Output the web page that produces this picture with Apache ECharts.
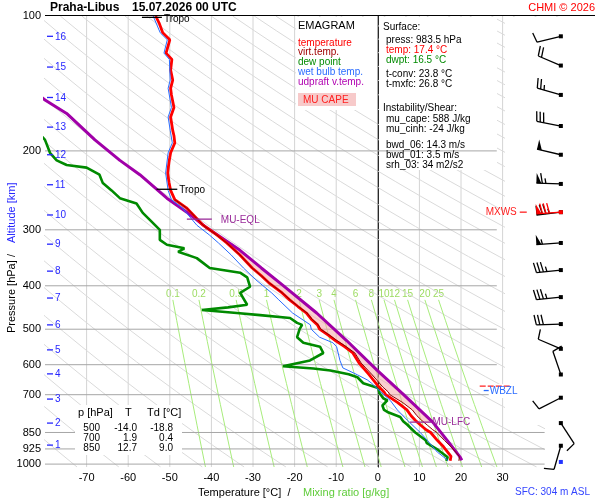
<!DOCTYPE html>
<html>
<head>
<meta charset="utf-8">
<title>Emagram Praha-Libus</title>
<script src="https://cdn.jsdelivr.net/npm/echarts@6.0.0/dist/echarts.min.js"></script>
<style>
html,body{margin:0;padding:0;background:#ffffff;}
#chart{width:600px;height:500px;}
</style>
</head>
<body>
<div id="chart"></div>
<script>
// ================= DATA (pressure hPa, temperature °C) =================
const temperature = [[100,-53.4],[104,-52.5],[109,-51.7],[113,-50.0],[121,-50.9],[125,-49.5],[132,-49.8],[139,-49.3],[145,-49.8],[150,-49.6],[160,-49.0],[168,-49.8],[180,-49.3],[185,-49.0],[192,-48.8],[202,-49.8],[212,-50.2],[224,-50.5],[235,-50.2],[245,-49.8],[257,-48.8],[268,-46.0],[275,-44.8],[280,-44.0],[293,-42.0],[308,-38.7],[321,-36.3],[341,-33.2],[365,-30.2],[380,-28.0],[394,-26.2],[415,-23.0],[430,-21.2],[445,-19.2],[460,-17.2],[475,-16.0],[489,-14.5],[500,-14.0],[515,-12.0],[530,-10.2],[547,-8.0],[565,-6.0],[595,-4.5],[610,-3.5],[630,-2.2],[650,-1.0],[673,0.3],[690,1.5],[700,1.9],[729,4.8],[757,7.0],[780,8.0],[798,9.0],[820,10.4],[838,11.6],[850,12.7],[885,14.3],[915,15.8],[940,16.8],[961,17.6],[970,17.8],[983.5,17.4]];
const virtualTemp = [[257,-48.8],[268,-46.0],[280,-44.0],[293,-42.0],[308,-38.7],[321,-36.3],[341,-33.2],[365,-30.2],[380,-28.0],[394,-26.1],[415,-22.9],[430,-21.1],[445,-19.1],[460,-17.0],[475,-15.8],[489,-14.3],[500,-13.7],[515,-11.7],[530,-9.8],[547,-7.6],[565,-5.5],[595,-4.0],[610,-2.9],[630,-1.5],[650,-0.2],[673,1.2],[690,2.5],[700,2.9],[729,6.0],[757,8.3],[780,9.4],[798,10.5],[820,12.0],[838,13.2],[850,14.2],[885,16.0],[915,17.6],[940,18.7],[961,19.6],[983.5,19.5]];
const dewPoint = [[180,-82],[189,-80],[202,-78.8],[210,-77.2],[215,-74.8],[218,-70],[226,-66.9],[236,-66.1],[245,-64],[255,-62],[262,-58],[275,-56.5],[285,-54.8],[300,-52.4],[316,-52.4],[324,-50.7],[330,-46.5],[336,-48],[347,-43.5],[365,-40.4],[374,-33.1],[383,-31.4],[402,-30.7],[415,-33.1],[441,-31.4],[447,-36],[453,-42.3],[460,-33.9],[465,-28.3],[472,-21.1],[484,-19.4],[489,-18.2],[500,-18.8],[521,-19.4],[536,-17.9],[547,-13.9],[565,-13.1],[587,-16.3],[605,-22.8],[612,-15.5],[618,-11.4],[630,-7.0],[640,-4.9],[660,-3.5],[676,0.1],[694,0.4],[700,0.4],[713,1.3],[721,2.3],[740,1.1],[757,1.5],[765,2.3],[785,5.4],[802,6.1],[817,7.1],[850,9.0],[885,11.5],[898,11.8],[930,14.5],[965,16.8],[983.5,16.5]];
const wetBulb = [[100,-54.0],[109,-52.3],[113,-50.6],[121,-51.4],[125,-50.1],[139,-49.9],[145,-50.4],[160,-49.6],[168,-50.4],[180,-49.9],[192,-49.4],[202,-50.4],[224,-51.0],[245,-50.4],[257,-49.6],[268,-47.0],[275,-46.0],[293,-43.5],[308,-40.5],[321,-38.3],[341,-35.3],[365,-32.3],[388,-29.3],[415,-25.5],[430,-23.8],[460,-20.5],[489,-16.2],[500,-16.0],[521,-14.0],[536,-10.8],[547,-9.9],[587,-9.1],[610,-8.4],[632,-4.9],[649,-2.5],[660,-1.5],[694,1.0],[721,3.0],[757,4.7],[798,7.1],[838,9.5],[850,10.2],[885,11.9],[940,14.3],[978,16.7],[983.5,16.8]];
const parcel = [[150,-81.5],[154,-80],[165,-74.8],[189,-68],[210,-62],[226,-57.2],[255,-50.7],[274,-45.9],[297,-41.1],[333,-33.2],[365,-28.0],[399,-22.8],[460,-14.7],[530,-7.5],[617,-0.2],[700,6.2],[806,13.2],[900,17.3],[962,19.7],[980,20.2]];

const capeTopP = 284;     // MU-EQL
const capeBottomP = 806;  // MU-LFC

const altKm = [1,2,3,4,5,6,7,8,9,10,11,12,13,14,15,16];
const altP  = [907,810,716,629,556,489,426,371,323,278,238,204,177,152,130,111];

const windP   = [910,810,711,631,553,487,424,369,321,274,237,204,176,150,129,111];
const windDir = [196,147,243,341,293,268,264,264,266,263,272,283,281,286,293,256];
const windSpd = [10,10,10,10,10,30,35,35,55,75,65,50,30,25,20,10];

const markerNames = ['Tropo','Tropo','MU-EQL','MU-LFC'];
const markerP     = [100.7, 243.6, 284, 806];
const markerT1    = [-56.7, -53.2, -45.9, 7.7];
const markerT2    = [-51.9, -48.2, -39.9, 12.9];

const pressureTicks = [100,200,300,400,500,600,700,850,925,1000];
const pressureLines = [200,300,400,500,600,700,850,925,1000];
const isotherms = [-70,-60,-50,-40,-30,-20,-10,0,10,20,30];
const mixingRatios = [0.1,0.2,0.5,1,2,3,4,6,8,10,12,15,20,25];
const thetas = [200,210,220,230,240,250,260,270,280,290,300,310,320,330,340,350,360,370,380,390,400,410,420,430,440,450,460,470,480,490,500,510,520,530,540,550,560,570,580,590,600,610];

const tableRows = [['500','-14.0','-18.8'],['700','1.9','0.4'],['850','12.7','9.0']];

// ================= helpers =================
const FONT = "'Liberation Sans', Arial, Helvetica, sans-serif";
const X_MIN = -80, X_MAX = 52.21;
const P_TOP = 100, P_BOT = 1015;
const ly = p => Math.log10(p);
const toXY = prof => prof.map(d => [d[1], ly(d[0])]);
const satT = (w, p) => { const es = w * p / (622 + w); const L = Math.log(es / 6.112); return 243.5 * L / (17.67 - L); };
const dryT = (th, p) => th * Math.pow(p / 1000, 0.2857) - 273.15;
function interpT(prof, p) {
  const lp = Math.log(p);
  for (let i = 0; i < prof.length - 1; i++) {
    const a = prof[i], b = prof[i + 1];
    if ((p - a[0]) * (p - b[0]) <= 0) {
      const f = (lp - Math.log(a[0])) / (Math.log(b[0]) - Math.log(a[0]));
      return a[1] + f * (b[1] - a[1]);
    }
  }
  return prof[prof.length - 1][1];
}
function txt(x, y, text, fill, size, align, extra) {
  return Object.assign({
    type: 'text', z: 10, silent: true,
    style: { x: x, y: y, text: text, fill: fill || '#000', font: (size || 10) + 'px ' + FONT,
      align: align || 'left', textAlign: align || 'left', verticalAlign: 'middle', textVerticalAlign: 'middle' }
  }, extra || {});
}

const series = [];
const base = { type: 'line', symbol: 'none', showSymbol: false, silent: true, animation: false };

// isotherms
isotherms.forEach(t => series.push(Object.assign({}, base, {
  data: [[t, ly(P_TOP)], [t, ly(P_BOT)]],
  lineStyle: { color: t === 0 ? '#8e8e8e' : '#d4d4d4', width: 1 }, z: t === 0 ? 3 : 1
})));

// dry adiabats
const samp = [];
for (let i = 0; i <= 30; i++) samp.push(P_TOP * Math.pow(P_BOT / P_TOP, i / 30));
thetas.forEach(th => series.push(Object.assign({}, base, {
  data: samp.map(p => [dryT(th, p), ly(p)]),
  lineStyle: { color: '#dadada', width: 1 }, z: 1
})));

// mixing ratio lines
const mrSamp = [];
for (let i = 0; i <= 8; i++) mrSamp.push(430 * Math.pow(P_BOT / 430, i / 8));
mixingRatios.forEach(w => series.push(Object.assign({}, base, {
  data: mrSamp.map(p => [satT(w, p), ly(p)]),
  lineStyle: { color: '#a8ec7c', width: 1 }, z: 1
})));
series.push({
  type: 'custom', silent: true, animation: false, z: 1,
  data: mixingRatios.map(w => [satT(w, 430), ly(430), w]),
  renderItem: (params, api) => {
    const c = api.coord([api.value(0), api.value(1)]);
    return { type: 'text', style: { text: String(api.value(2)), x: c[0], y: c[1] - 1, fill: '#9ddc62',
      font: '10px ' + FONT, align: 'center', textAlign: 'center', verticalAlign: 'bottom', textVerticalAlign: 'bottom' } };
  }
});

// pressure lines
pressureLines.forEach(p => series.push(Object.assign({}, base, {
  data: [[X_MIN, ly(p)], [p <= 700 ? 28.6 : 40.1, ly(p)]],
  lineStyle: { color: '#a6a6a6', width: 1 }, z: 3
})));

// CAPE fill
series.push({
  type: 'custom', silent: true, animation: false, z: 5, data: [[0, 2.5]],
  renderItem: (params, api) => {
    const pts = [];
    pts.push([interpT(parcel, capeTopP), ly(capeTopP)]);
    parcel.forEach(d => { if (d[0] > capeTopP && d[0] < capeBottomP) pts.push([d[1], ly(d[0])]); });
    pts.push([interpT(parcel, capeBottomP), ly(capeBottomP)]);
    pts.push([interpT(virtualTemp, capeBottomP), ly(capeBottomP)]);
    virtualTemp.slice().reverse().forEach(d => { if (d[0] > capeTopP && d[0] < capeBottomP) pts.push([d[1], ly(d[0])]); });
    pts.push([interpT(virtualTemp, capeTopP), ly(capeTopP)]);
    return { type: 'polygon', shape: { points: pts.map(q => api.coord(q)) }, style: { fill: 'rgba(245,170,170,0.55)' } };
  }
});

// profiles
series.push(Object.assign({}, base, { name: 'dew point', data: toXY(dewPoint), lineStyle: { color: '#008a00', width: 2.6 }, z: 6 }));
series.push(Object.assign({}, base, { name: 'udpraft v.temp.', data: toXY(parcel), lineStyle: { color: '#a000a8', width: 3 }, z: 6 }));
series.push(Object.assign({}, base, { name: 'temperature', data: toXY(temperature), lineStyle: { color: '#ff0000', width: 2.8 }, z: 7 }));
series.push(Object.assign({}, base, { name: 'virt.temp.', data: toXY(virtualTemp), lineStyle: { color: '#8b0000', width: 1 }, z: 7 }));
series.push(Object.assign({}, base, { name: 'wet bulb temp.', data: toXY(wetBulb), lineStyle: { color: '#2a6cff', width: 1 }, z: 8 }));

// markers (Tropo, MU-EQL, MU-LFC)
const markerColors = ['#000000', '#000000', '#9a2b9a', '#9a2b9a'];
const markerGap = [2, 2, 9, 1];
const markerDy = [2.2, 1.4, 1.2, 0.5];
series.push({
  type: 'custom', silent: true, animation: false, z: 9,
  data: markerP.map((p, i) => [markerT1[i], ly(p), markerT2[i], i]),
  renderItem: (params, api) => {
    const a = api.coord([api.value(0), api.value(1)]), b = api.coord([api.value(2), api.value(1)]);
    const i = api.value(3);
    return { type: 'group', children: [
      { type: 'line', shape: { x1: a[0], y1: a[1], x2: b[0], y2: b[1] }, style: { stroke: markerColors[i], lineWidth: 1.3 } },
      { type: 'text', style: { text: markerNames[i], x: b[0] + markerGap[i], y: a[1] + markerDy[i], fill: markerColors[i],
        font: '10px ' + FONT, align: 'left', textAlign: 'left', verticalAlign: 'middle', textVerticalAlign: 'middle' } }
    ] };
  }
});

// altitude labels (km)
series.push({
  type: 'custom', silent: true, animation: false, z: 9,
  data: altKm.map((k, i) => [X_MIN, ly(altP[i]), k]),
  renderItem: (params, api) => {
    const c = api.coord([api.value(0), api.value(1)]);
    return { type: 'group', children: [
      { type: 'line', shape: { x1: c[0] + 2, y1: c[1], x2: c[0] + 8, y2: c[1] }, style: { stroke: '#2626ff', lineWidth: 1.3 } },
      { type: 'text', style: { text: String(api.value(2)), x: c[0] + 10, y: c[1] + 0.5, fill: '#2626ff',
        font: '10px ' + FONT, align: 'left', textAlign: 'left', verticalAlign: 'middle', textVerticalAlign: 'middle' } }
    ] };
  }
});

// level labels MXWS / WBZL
series.push({
  type: 'custom', silent: true, animation: false, z: 9,
  data: [[33.4, ly(274), 0], [26.9, ly(687), 1]],
  renderItem: (params, api) => {
    const c = api.coord([api.value(0), api.value(1)]);
    const f = '10px ' + FONT;
    if (api.value(2) === 0) {
      return { type: 'group', children: [
        { type: 'text', style: { text: 'MXWS', x: c[0], y: c[1], fill: '#ff2020', font: f, align: 'right', textAlign: 'right', verticalAlign: 'middle', textVerticalAlign: 'middle' } },
        { type: 'line', shape: { x1: c[0] + 3, y1: c[1], x2: c[0] + 10, y2: c[1] }, style: { stroke: '#ff2020', lineWidth: 1.3 } }
      ] };
    }
    return { type: 'group', children: [
      { type: 'rect', shape: { x: c[0] - 1, y: c[1] - 7, width: 30, height: 14 }, style: { fill: '#ffffff' } },
      { type: 'line', shape: { x1: c[0] - 10, y1: c[1] - 5, x2: c[0] + 20, y2: c[1] - 5 }, style: { stroke: '#ff2020', lineWidth: 1.2, lineDash: [6, 2] } },
      { type: 'line', shape: { x1: c[0] - 6, y1: c[1] - 0.5, x2: c[0] - 1, y2: c[1] - 0.5 }, style: { stroke: '#2a6cff', lineWidth: 1.3 } },
      { type: 'text', style: { text: 'WBZL', x: c[0], y: c[1], fill: '#2a6cff', font: f, align: 'left', textAlign: 'left', verticalAlign: 'middle', textVerticalAlign: 'middle' } }
    ] };
  }
});

// wind barbs
const windData = windP.map((p, i) => [44, ly(p), windDir[i], windSpd[i], 0]);
windData.push([44, ly(274), 266, 80, 2]);
windData.push([44, ly(989), 0, 0, 1]);
series.push({
  type: 'custom', silent: true, animation: false, z: 9, data: windData,
  renderItem: (params, api) => {
    const S = api.coord([api.value(0), api.value(1)]);
    const dir = api.value(2) * Math.PI / 180, spd = api.value(3);
    const col = ['#000000', '#2233ff', '#ff0000'][api.value(4)];
    const ux = Math.sin(dir), uy = -Math.cos(dir), rx = -uy, ry = ux;
    const L = 24.5;
    const kids = [{ type: 'rect', shape: { x: S[0] - 2, y: S[1] - 2, width: 4, height: 4 }, style: { fill: col } }];
    if (spd > 0) {
      const E = [S[0] + L * ux, S[1] + L * uy];
      kids.push({ type: 'line', shape: { x1: S[0], y1: S[1], x2: E[0], y2: E[1] }, style: { stroke: col, lineWidth: 1.3 } });
      let rem = Math.round(spd / 5) * 5, pos = 0;
      while (rem >= 50) {
        const b = [E[0] - pos * ux, E[1] - pos * uy];
        kids.push({ type: 'polygon', shape: { points: [b, [b[0] + 10 * rx, b[1] + 10 * ry], [b[0] - 5 * ux, b[1] - 5 * uy]] }, style: { fill: col } });
        pos += 6; rem -= 50;
      }
      while (rem >= 10) {
        const b = [E[0] - pos * ux, E[1] - pos * uy];
        kids.push({ type: 'line', shape: { x1: b[0], y1: b[1], x2: b[0] + 10 * rx + 2 * ux, y2: b[1] + 10 * ry + 2 * uy }, style: { stroke: col, lineWidth: 1.3 } });
        pos += 3.5; rem -= 10;
      }
      if (rem >= 5) {
        if (pos === 0) pos = 3.5;
        const b = [E[0] - pos * ux, E[1] - pos * uy];
        kids.push({ type: 'line', shape: { x1: b[0], y1: b[1], x2: b[0] + 5 * rx + 1 * ux, y2: b[1] + 5 * ry + 1 * uy }, style: { stroke: col, lineWidth: 1.3 } });
      }
    }
    return { type: 'group', children: kids };
  }
});

// ================= graphic (boxes & texts) =================
const graphics = [
  { type: 'rect', z: 2, silent: true, shape: { x: 296, y: 17, width: 81, height: 93 }, style: { fill: '#ffffff' } },
  { type: 'rect', z: 2, silent: true, shape: { x: 379, y: 17, width: 118, height: 153 }, style: { fill: '#ffffff' } },
  { type: 'rect', z: 2, silent: true, shape: { x: 505, y: 17, width: 40, height: 408 }, style: { fill: '#ffffff' } },
  { type: 'rect', z: 2, silent: true, shape: { x: 545, y: 17, width: 55, height: 460 }, style: { fill: '#ffffff' } },
  { type: 'rect', z: 4, silent: true, shape: { x: 75, y: 405, width: 107, height: 50 }, style: { fill: '#ffffff' } },
  { type: 'rect', z: 3, silent: true, shape: { x: 298, y: 93, width: 58, height: 13 }, style: { fill: '#f7caca' } },
  { type: 'line', z: 10, silent: true, shape: { x1: 45, y1: 15.5, x2: 595, y2: 15.5 }, style: { stroke: '#000', lineWidth: 1 } },
  txt(50, 8, 'Praha-Libus', '#000', 12, 'left', { style: { x: 50, y: 8, text: 'Praha-Libus', fill: '#000', font: 'bold 12px ' + FONT, align: 'left', textAlign: 'left', verticalAlign: 'middle', textVerticalAlign: 'middle' } }),
  txt(132, 8, '15.07.2026 00 UTC', '#000', 12, 'left', { style: { x: 132, y: 8, text: '15.07.2026 00 UTC', fill: '#000', font: 'bold 12px ' + FONT, align: 'left', textAlign: 'left', verticalAlign: 'middle', textVerticalAlign: 'middle' } }),
  txt(595, 8, 'CHMI © 2026', '#ff0000', 11, 'right'),
  // legend
  txt(298, 26, 'EMAGRAM', '#000', 11),
  txt(298, 43, 'temperature', '#ff0000', 10),
  txt(298, 52, 'virt.temp.', '#a00000', 10),
  txt(298, 62, 'dew point', '#008a00', 10),
  txt(298, 72, 'wet bulb temp.', '#2a6cff', 10),
  txt(298, 82, 'udpraft v.temp.', '#b000b0', 10),
  txt(303, 100, 'MU CAPE', '#ff2020', 10),
  // surface box
  txt(383, 27, 'Surface:', '#000', 10),
  txt(386, 40, 'press: 983.5 hPa', '#000', 10),
  txt(386, 50, 'temp: 17.4 °C', '#ff0000', 10),
  txt(386, 60, 'dwpt: 16.5 °C', '#008a00', 10),
  txt(386, 74, 't-conv: 23.8 °C', '#000', 10),
  txt(386, 84, 't-mxfc: 26.8 °C', '#000', 10),
  txt(383, 108, 'Instability/Shear:', '#000', 10),
  txt(386, 119, 'mu_cape: 588 J/kg', '#000', 10),
  txt(386, 129, 'mu_cinh: -24 J/kg', '#000', 10),
  txt(386, 145, 'bwd_06: 14.3 m/s', '#000', 10),
  txt(386, 155, 'bwd_01: 3.5 m/s', '#000', 10),
  txt(386, 165, 'srh_03: 34 m2/s2', '#000', 10),
  // table
  txt(78, 413, 'p [hPa]', '#000', 11),
  txt(125, 413, 'T', '#000', 11),
  txt(147, 413, 'Td [°C]', '#000', 11),
  // axis titles
  txt(198, 493, 'Temperature [°C]  /', '#000', 11),
  txt(303, 493, 'Mixing ratio [g/kg]', '#5fcc3a', 11),
  txt(590, 492, 'SFC: 304 m ASL', '#3344ff', 10, 'right'),
  { type: 'group', x: 12, y: 333, rotation: Math.PI / 2, z: 10, silent: true, children: [
    { type: 'text', z: 10, style: { x: 0, y: 0, text: 'Pressure [hPa]', fill: '#000', font: '11px ' + FONT, align: 'left', textAlign: 'left', verticalAlign: 'middle', textVerticalAlign: 'middle' } },
    { type: 'text', z: 10, style: { x: 76, y: 0, text: '/', fill: '#000', font: '11px ' + FONT, align: 'left', textAlign: 'left', verticalAlign: 'middle', textVerticalAlign: 'middle' } },
    { type: 'text', z: 10, style: { x: 90, y: 0, text: 'Altitude [km]', fill: '#2626ff', font: '11px ' + FONT, align: 'left', textAlign: 'left', verticalAlign: 'middle', textVerticalAlign: 'middle' } }
  ] }
];
const colRight = [100, 137, 173];
tableRows.forEach((row, r) => row.forEach((cell, c) => graphics.push(txt(colRight[c], 428 + r * 10, cell, '#000', 10, 'right'))));

// ================= chart =================
const chart = echarts.init(document.getElementById('chart'));
chart.setOption({
  animation: false,
  backgroundColor: '#ffffff',
  textStyle: { fontFamily: FONT },
  grid: { left: 45, right: 5, top: 16, bottom: 33, containLabel: false, outerBoundsMode: 'none' },
  xAxis: {
    type: 'value', min: X_MIN, max: X_MAX, interval: 10,
    axisLine: { show: false }, axisTick: { show: false }, splitLine: { show: false },
    axisLabel: { color: '#000', fontSize: 11, fontFamily: FONT, margin: 5,
      formatter: v => (v >= -70 && v <= 30) ? String(Math.round(v)) : '' }
  },
  yAxis: {
    type: 'value', inverse: true, min: ly(P_TOP), max: ly(P_BOT),
    axisLine: { show: true, lineStyle: { color: '#000', width: 1 } },
    axisTick: { show: false }, splitLine: { show: false },
    axisLabel: { color: '#000', fontSize: 11, fontFamily: FONT, margin: 4,
      customValues: pressureTicks.map(ly),
      formatter: v => String(Math.round(Math.pow(10, v))) }
  },
  graphic: { elements: graphics },
  series: series
});
</script>
</body>
</html>
